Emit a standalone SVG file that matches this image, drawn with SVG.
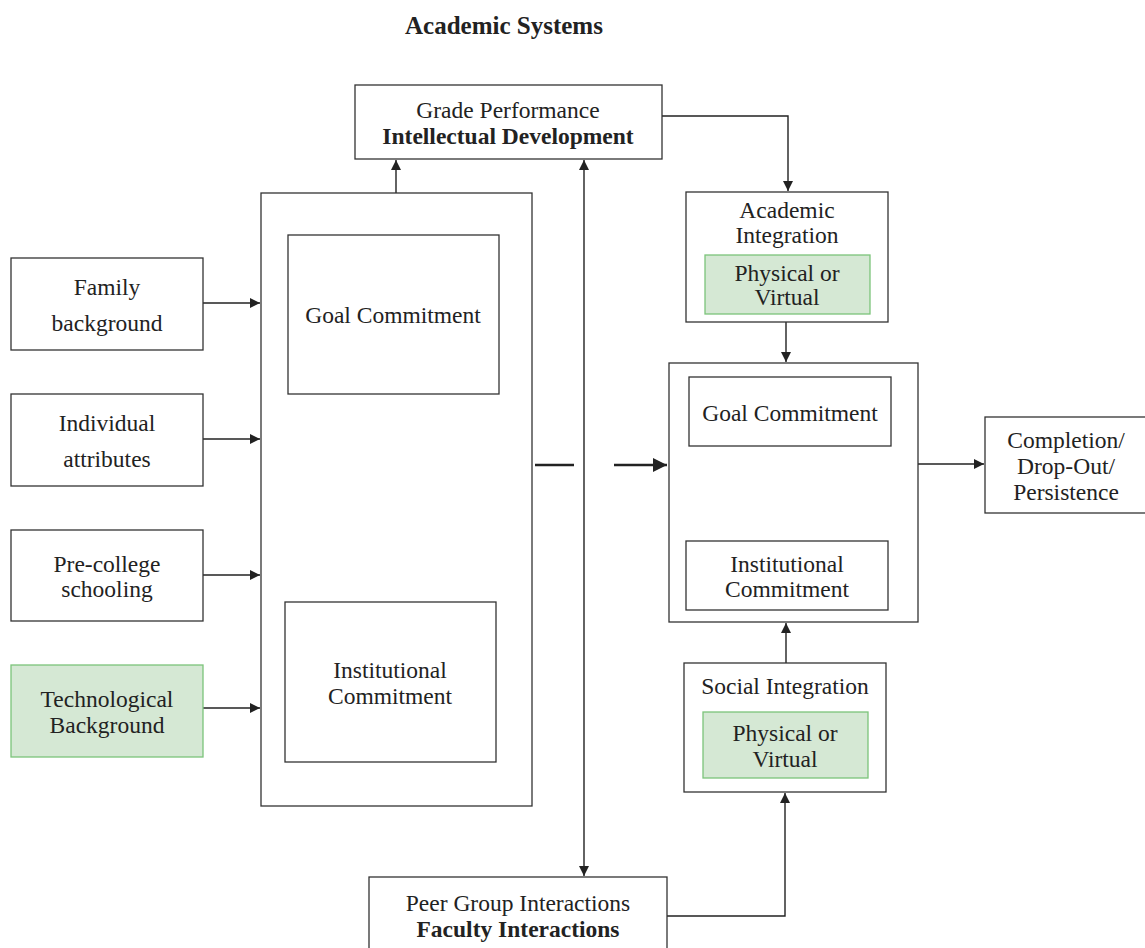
<svg xmlns="http://www.w3.org/2000/svg" width="1145" height="948" viewBox="0 0 1145 948">
<style>
text{font-family:"Liberation Serif","DejaVu Serif",serif;font-size:23.5px;fill:#222;text-anchor:middle}
.b{font-weight:bold}
.t{font-size:25px}
.box{fill:#fff;stroke:#333;stroke-width:1.3}
.green{fill:#d5e8d4;stroke:#7cc47a;stroke-width:1.3}
.c{fill:none;stroke:#222;stroke-width:1.4}
.thick{fill:none;stroke:#222;stroke-width:2.4}
</style>
<defs>
<marker id="ah" viewBox="0 0 10 10" refX="10" refY="5" markerWidth="11" markerHeight="10" markerUnits="userSpaceOnUse" orient="auto-start-reverse">
<path d="M0,0 L10,5 L0,10 z" fill="#222"/>
</marker>
<marker id="ahb" viewBox="0 0 10 10" refX="10" refY="5" markerWidth="16" markerHeight="14" markerUnits="userSpaceOnUse" orient="auto">
<path d="M0,0 L10,5 L0,10 z" fill="#222"/>
</marker>
</defs>
<rect width="1145" height="948" fill="#fff"/>
<text class="b t" x="504" y="34">Academic Systems</text>

<g id="connectors">
<line class="c" x1="203" y1="303" x2="260" y2="303" marker-end="url(#ah)"/>
<line class="c" x1="203" y1="439" x2="260" y2="439" marker-end="url(#ah)"/>
<line class="c" x1="203" y1="575" x2="260" y2="575" marker-end="url(#ah)"/>
<line class="c" x1="203" y1="708" x2="260" y2="708" marker-end="url(#ah)"/>
<line class="c" x1="396" y1="193" x2="396" y2="160" marker-end="url(#ah)"/>
<line class="c" x1="584" y1="160" x2="584" y2="876" marker-start="url(#ah)" marker-end="url(#ah)"/>
<line class="thick" x1="535" y1="465" x2="574" y2="465"/>
<line class="thick" x1="614" y1="465" x2="667" y2="465" marker-end="url(#ahb)"/>
<polyline class="c" points="662,116 788,116 788,191" marker-end="url(#ah)"/>
<line class="c" x1="786" y1="322" x2="786" y2="362" marker-end="url(#ah)"/>
<line class="c" x1="918" y1="464" x2="984" y2="464" marker-end="url(#ah)"/>
<line class="c" x1="786" y1="663" x2="786" y2="623" marker-end="url(#ah)"/>
<polyline class="c" points="667,916 785,916 785,793" marker-end="url(#ah)"/>
</g>

<g id="grade">
<rect class="box" x="355" y="85" width="307" height="74"/>
<text x="508" y="118">Grade Performance</text>
<text class="b" x="508" y="144">Intellectual Development</text>
</g>

<g id="left-commitments">
<rect class="box" x="261" y="193" width="271" height="613"/>
</g>
<g id="goal-left">
<rect class="box" x="288" y="235" width="211" height="159"/>
<text x="393" y="323">Goal Commitment</text>
</g>
<g id="inst-left">
<rect class="box" x="285" y="602" width="211" height="160"/>
<text x="390" y="678">Institutional</text>
<text x="390" y="704">Commitment</text>
</g>

<g id="family">
<rect class="box" x="11" y="258" width="192" height="92"/>
<text x="107" y="295">Family</text>
<text x="107" y="331">background</text>
</g>
<g id="individual">
<rect class="box" x="11" y="394" width="192" height="92"/>
<text x="107" y="431">Individual</text>
<text x="107" y="467">attributes</text>
</g>
<g id="precollege">
<rect class="box" x="11" y="530" width="192" height="91"/>
<text x="107" y="572">Pre-college</text>
<text x="107" y="597">schooling</text>
</g>
<g id="tech">
<rect class="green" x="11" y="665" width="192" height="92"/>
<text x="107" y="707">Technological</text>
<text x="107" y="733">Background</text>
</g>

<g id="academic-integration">
<rect class="box" x="686" y="192" width="202" height="130"/>
<text x="787" y="218">Academic</text>
<text x="787" y="243">Integration</text>
<rect class="green" x="705" y="255" width="165" height="59"/>
<text x="787" y="281">Physical or</text>
<text x="787" y="305">Virtual</text>
</g>

<g id="right-commitments">
<rect class="box" x="669" y="363" width="249" height="259"/>
</g>
<g id="goal-right">
<rect class="box" x="689" y="377" width="202" height="69"/>
<text x="790" y="421">Goal Commitment</text>
</g>
<g id="inst-right">
<rect class="box" x="686" y="541" width="202" height="69"/>
<text x="787" y="572">Institutional</text>
<text x="787" y="597">Commitment</text>
</g>

<g id="completion">
<rect class="box" x="985" y="417" width="165" height="96"/>
<text x="1066" y="448">Completion/</text>
<text x="1066" y="474">Drop-Out/</text>
<text x="1066" y="500">Persistence</text>
</g>

<g id="social-integration">
<rect class="box" x="684" y="663" width="202" height="129"/>
<text x="785" y="694">Social Integration</text>
<rect class="green" x="703" y="712" width="165" height="66"/>
<text x="785" y="741">Physical or</text>
<text x="785" y="767">Virtual</text>
</g>

<g id="peer">
<rect class="box" x="369" y="877" width="298" height="80"/>
<text x="518" y="911">Peer Group Interactions</text>
<text class="b" x="518" y="937">Faculty Interactions</text>
</g>
</svg>
